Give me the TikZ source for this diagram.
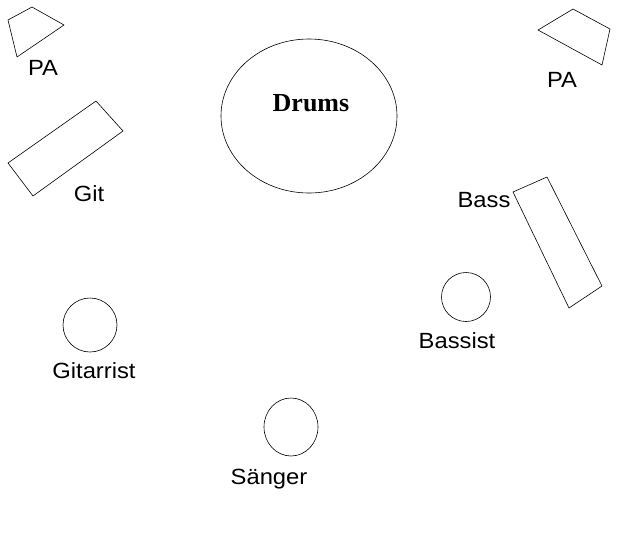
\documentclass[tikz,border=0pt]{standalone}
\usepackage{fontspec}
\setmainfont[FakeStretch=1.08]{Liberation Sans}
\newfontfamily\drumfont{Liberation Serif}
\usepackage{tkz-euclide}

\begin{document}
\begin{tikzpicture}[x=1pt,y=-1pt,line width=.6pt,
    lbl/.style={anchor=base,inner sep=0pt,font=\fontsize{22}{26}\selectfont}]
    \useasboundingbox (0,0) rectangle (627,539);
    \tkzDefPoints{8/20/P_1,32/7/P_2,64/25/P_3,17/57/P_4}
    \tkzDefPoints{538/30/Q_1,573/9/Q_2,610/29/Q_3,602/65/Q_4}
    \tkzDefPoints{8/163/G_1,96/101/G_2,123/131/G_3,33/196/G_4}
    \tkzDefPoints{513/192/B_1,547/177/B_2,602/286/B_3,569/308/B_4}
    \tkzDrawPolygon[line width=.6pt](P_1,P_2,P_3,P_4)
    \tkzDrawPolygon[line width=.6pt](Q_1,Q_2,Q_3,Q_4)
    \tkzDrawPolygon[line width=.6pt](G_1,G_2,G_3,G_4)
    \tkzDrawPolygon[line width=.6pt](B_1,B_2,B_3,B_4)
    \tkzDefPoints{309/116/D,291/427/S,90/325/T,466/297/N}
    \draw (D) ellipse [x radius=88,y radius=77];
    \draw (S) ellipse [x radius=27,y radius=29];
    \draw (T) circle [radius=27];
    \draw (N) circle [radius=24.5];
    \node[lbl] (paL) at (43,75) {PA};
    \node[lbl] (paR) at (562,87) {PA};
    \node[lbl] (git) at (89,201) {Git};
    \node[lbl] (bass) at (484,207) {Bass};
    \node[lbl] (drums) at (311,111) {\drumfont\bfseries\fontsize{26}{30}\selectfont Drums};
    \node[lbl] (gitarrist) at (94,378) {Gitarrist};
    \node[lbl] (bassist) at (457,348) {Bassist};
    \node[lbl] (saenger) at (269,484) {Sänger};
\end{tikzpicture}
\end{document}
